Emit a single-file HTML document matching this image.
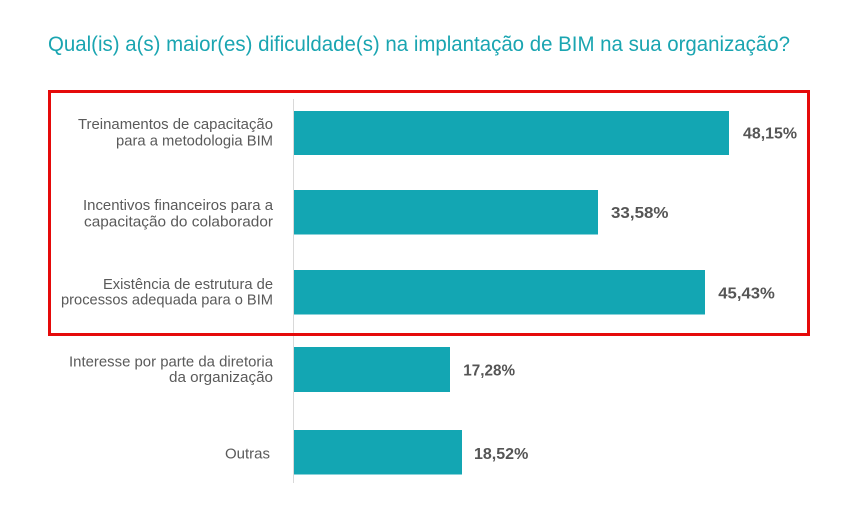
<!DOCTYPE html>
<html>
<head>
<meta charset="utf-8">
<style>
  html, body { margin:0; padding:0; background:#ffffff; }
  body { width:848px; height:518px; overflow:hidden; }
  svg { display:block; }
  .title { font-family:"Liberation Sans", sans-serif; font-size:21px; fill:#1aa5b1; }
  .lbl { font-family:"Liberation Sans", sans-serif; font-size:14.5px; fill:#5a5a5a; }
  .val { font-family:"Liberation Sans", sans-serif; font-size:16px; fill:#555555; font-weight:bold; }
</style>
</head>
<body>
<svg width="848" height="518" viewBox="0 0 848 518" xmlns="http://www.w3.org/2000/svg">
  <rect x="0" y="0" width="848" height="518" fill="#ffffff"/>
  <text class="title" x="48" y="51" textLength="742" lengthAdjust="spacingAndGlyphs">Qual(is) a(s) maior(es) dificuldade(s) na implantação de BIM na sua organização?</text>

  <!-- axis line -->
  <line x1="293.5" y1="99" x2="293.5" y2="483" stroke="#d9d9d9" stroke-width="1"/>

  <!-- bars -->
  <rect x="294" y="111" width="435" height="44" fill="#13a6b3"/>
  <rect x="294" y="190" width="304" height="44.5" fill="#13a6b3"/>
  <rect x="294" y="270" width="411" height="44.5" fill="#13a6b3"/>
  <rect x="294" y="347" width="156" height="45" fill="#13a6b3"/>
  <rect x="294" y="430" width="168" height="44.5" fill="#13a6b3"/>

  <!-- category labels -->
  <text class="lbl" x="273" y="129" text-anchor="end" textLength="195" lengthAdjust="spacingAndGlyphs">Treinamentos de capacitação</text>
  <text class="lbl" x="273" y="145.7" text-anchor="end" textLength="157" lengthAdjust="spacingAndGlyphs">para a metodologia BIM</text>

  <text class="lbl" x="273" y="210" text-anchor="end" textLength="190" lengthAdjust="spacingAndGlyphs">Incentivos financeiros para a</text>
  <text class="lbl" x="273" y="226.7" text-anchor="end" textLength="189" lengthAdjust="spacingAndGlyphs">capacitação do colaborador</text>

  <text class="lbl" x="273" y="289" text-anchor="end" textLength="170" lengthAdjust="spacingAndGlyphs">Existência de estrutura de</text>
  <text class="lbl" x="273" y="304.5" text-anchor="end" textLength="212" lengthAdjust="spacingAndGlyphs">processos adequada para o BIM</text>

  <text class="lbl" x="273" y="366.7" text-anchor="end" textLength="204" lengthAdjust="spacingAndGlyphs">Interesse por parte da diretoria</text>
  <text class="lbl" x="273" y="382" text-anchor="end" textLength="104" lengthAdjust="spacingAndGlyphs">da organização</text>

  <text class="lbl" x="270" y="458.3" text-anchor="end" textLength="45" lengthAdjust="spacingAndGlyphs">Outras</text>

  <!-- values -->
  <text class="val" x="743" y="138.7" textLength="54" lengthAdjust="spacingAndGlyphs">48,15%</text>
  <text class="val" x="611" y="218" textLength="57.5" lengthAdjust="spacingAndGlyphs">33,58%</text>
  <text class="val" x="718.3" y="298.3" textLength="56.5" lengthAdjust="spacingAndGlyphs">45,43%</text>
  <text class="val" x="463.3" y="375.7" textLength="51.7" lengthAdjust="spacingAndGlyphs">17,28%</text>
  <text class="val" x="474" y="459" textLength="54.3" lengthAdjust="spacingAndGlyphs">18,52%</text>

  <!-- red highlight box -->
  <rect x="49.5" y="91.5" width="759" height="243" fill="none" stroke="#e50a0a" stroke-width="3"/>
</svg>
</body>
</html>
